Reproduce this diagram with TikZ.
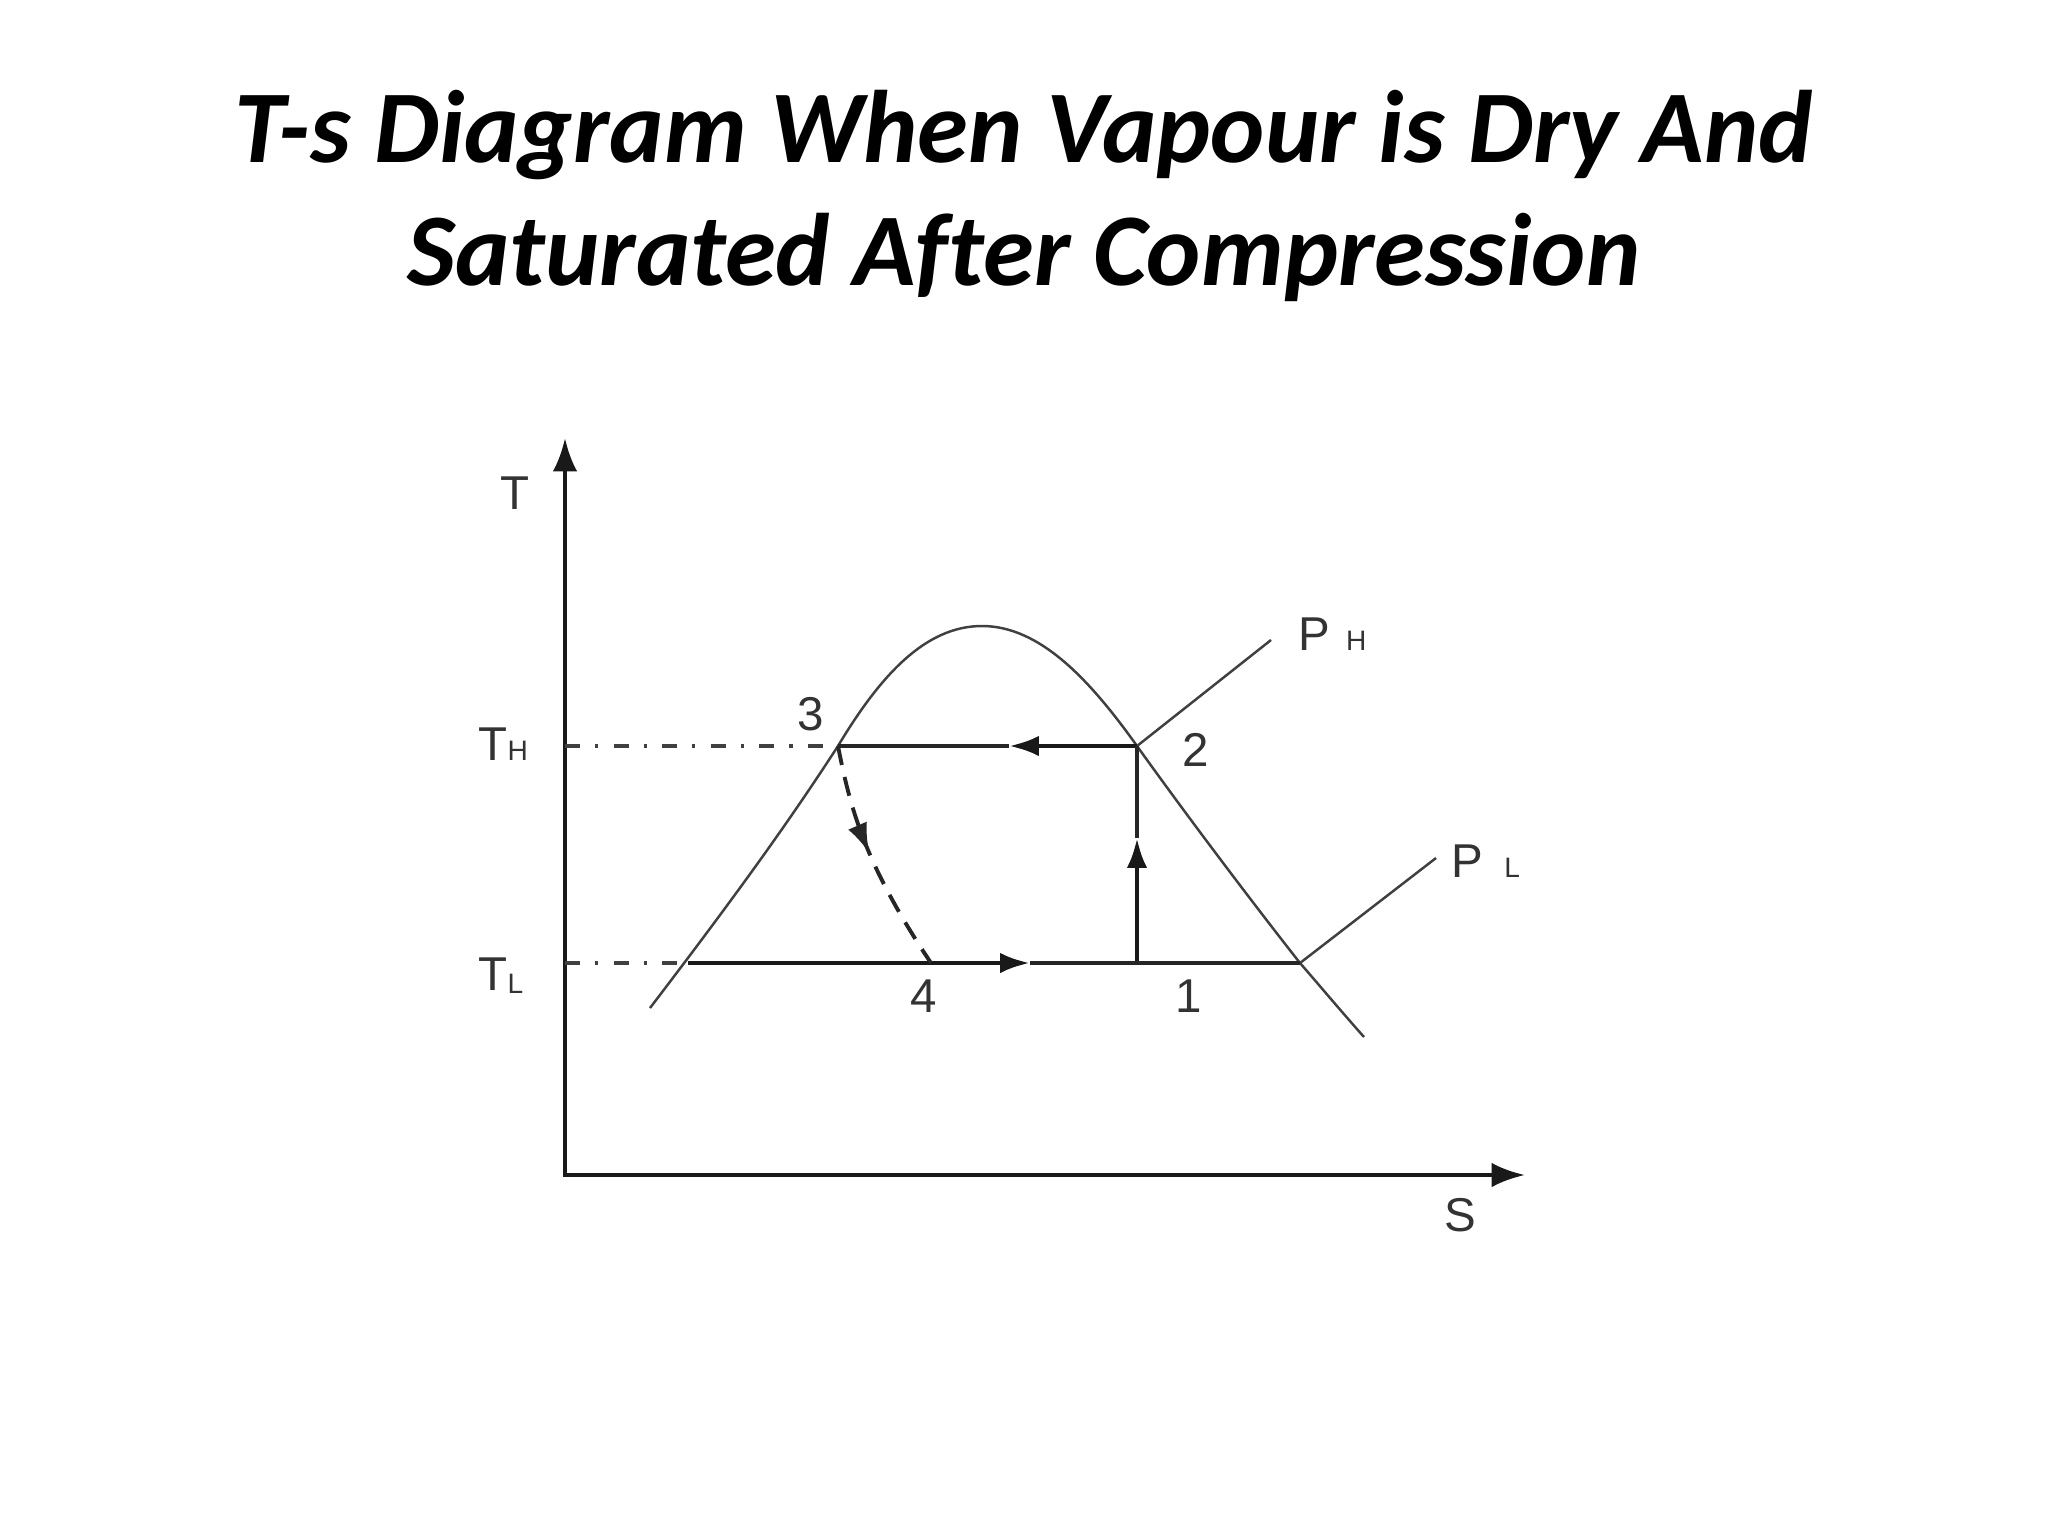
\documentclass[tikz,border=0pt]{standalone}
\usepackage{fontspec}
\setmainfont{Liberation Sans}
\newfontfamily\titlefont[Ligatures=NoCommon]{Carlito}
\usetikzlibrary{arrows.meta,decorations.markings}
\newcommand{\subsm}[1]{{\fontsize{8}{8}\selectfont #1}}
\begin{document}
\begin{tikzpicture}[x=0.01cm,y=-0.01cm,
  lbl/.style={inner sep=0pt, text=black!80, font=\fontsize{13.5}{13.5}\selectfont},
  ttl/.style={inner sep=0pt, font=\titlefont\bfseries\itshape\fontsize{29.3}{29.3}\selectfont},
  axisline/.style={line width=1.3pt, draw=black!90},
  axtips/.style={{Latex[length=9.5pt,width=7pt]}-{Latex[length=9.5pt,width=7pt]}},
  dome/.style={line width=0.7pt, draw=black!75},
  cyc/.style={line width=1.3pt, draw=black!90},
  cycthin/.style={line width=1pt, draw=black!85},
  tipend/.style={-{Latex[length=8.5pt,width=5.8pt]}},
  dashdot/.style={line width=1pt, draw=black!75, dash pattern=on 4.3pt off 4.3pt on 0.9pt off 4.3pt},
  dashedc/.style={line width=1.1pt, draw=black!85, dash pattern=on 5.5pt off 3.5pt},
  ]
\useasboundingbox (0,0) rectangle (2048,1536);
\fill[white] (0,0) rectangle (2048,1536);

% title
\node[ttl, anchor=base] (title1) at (1024,162) {T-s Diagram When Vapour is Dry And};
\node[ttl, anchor=base] (title2) at (1024,285) {Saturated After Compression};

% coordinates
\coordinate (O) at (565,1175);
\coordinate (Ytop) at (565,438);
\coordinate (Xend) at (1525,1175);
\coordinate (p3) at (838,746);
\coordinate (p2) at (1137,746);
\coordinate (p1) at (1300,963);
\coordinate (pl) at (688,963);
\coordinate (p4) at (931,963);
\coordinate (pv) at (1137,963);
\coordinate (thax) at (565,746);
\coordinate (tlax) at (565,963);
\coordinate (domeL) at (650,1008);
\coordinate (domeR) at (1364,1037);
\coordinate (peak) at (982,626);
\coordinate (phend) at (1271,640);
\coordinate (plend) at (1436,858);
\coordinate (atop) at (1009,746);
\coordinate (avert) at (1137,838);
\coordinate (abot) at (1030,963);

% axes
\draw[axisline, axtips] (Ytop) -- (O) -- (Xend);

% saturation dome
\draw[dome] (domeL) .. controls (740,890) and (790,820) .. (p3)
  .. controls (880,676) and (925,626) .. (peak)
  .. controls (1040,626) and (1090,680) .. (p2)
  .. controls (1200,834) and (1270,925) .. (p1)
  .. controls (1320,986) and (1340,1010) .. (domeR);

% pressure lines
\draw[dome] (p2) -- (phend);
\draw[dome] (p1) -- (plend);

% dash-dot guide lines
\draw[dashdot] (thax) -- (p3);
\draw[dashdot] (tlax) -- (pl);

% cycle
\draw[cyc, tipend] (p2) -- (atop);
\draw[cycthin] (atop) -- (p3);
\draw[cyc, tipend] (pv) -- (avert);
\draw[cycthin] (avert) -- (p2);
\draw[cyc, tipend] (pl) -- (abot);
\draw[cycthin] (abot) -- (p1);
\draw[dashedc, postaction={decorate},
  decoration={markings, mark=at position 0.47 with {\arrow{Latex[length=8.5pt,width=5.8pt]}}}]
  (p3) .. controls (850,807) and (864,863) .. (p4);

% labels
\node[lbl] (Tlab) at (515,493) {T};
\node[lbl, anchor=base west] (THlab) at (478,760) {T\subsm{H}};
\node[lbl, anchor=base west] (TLlab) at (478,990) {T\raisebox{-1pt}{\subsm{L}}};
\node[lbl] (Slab) at (1460,1215) {S};
\node[lbl] (n3) at (811,714) {3};
\node[lbl] (n2) at (1196,750) {2};
\node[lbl] (n4) at (924,996) {4};
\node[lbl] (n1) at (1189,996) {1};
\node[lbl, anchor=base west] (PHlab) at (1298,650) {P\hspace{4.5pt}\subsm{H}};
\node[lbl, anchor=base west] (PLlab) at (1451,877) {P\hspace{6pt}\subsm{L}};
\end{tikzpicture}
\end{document}
